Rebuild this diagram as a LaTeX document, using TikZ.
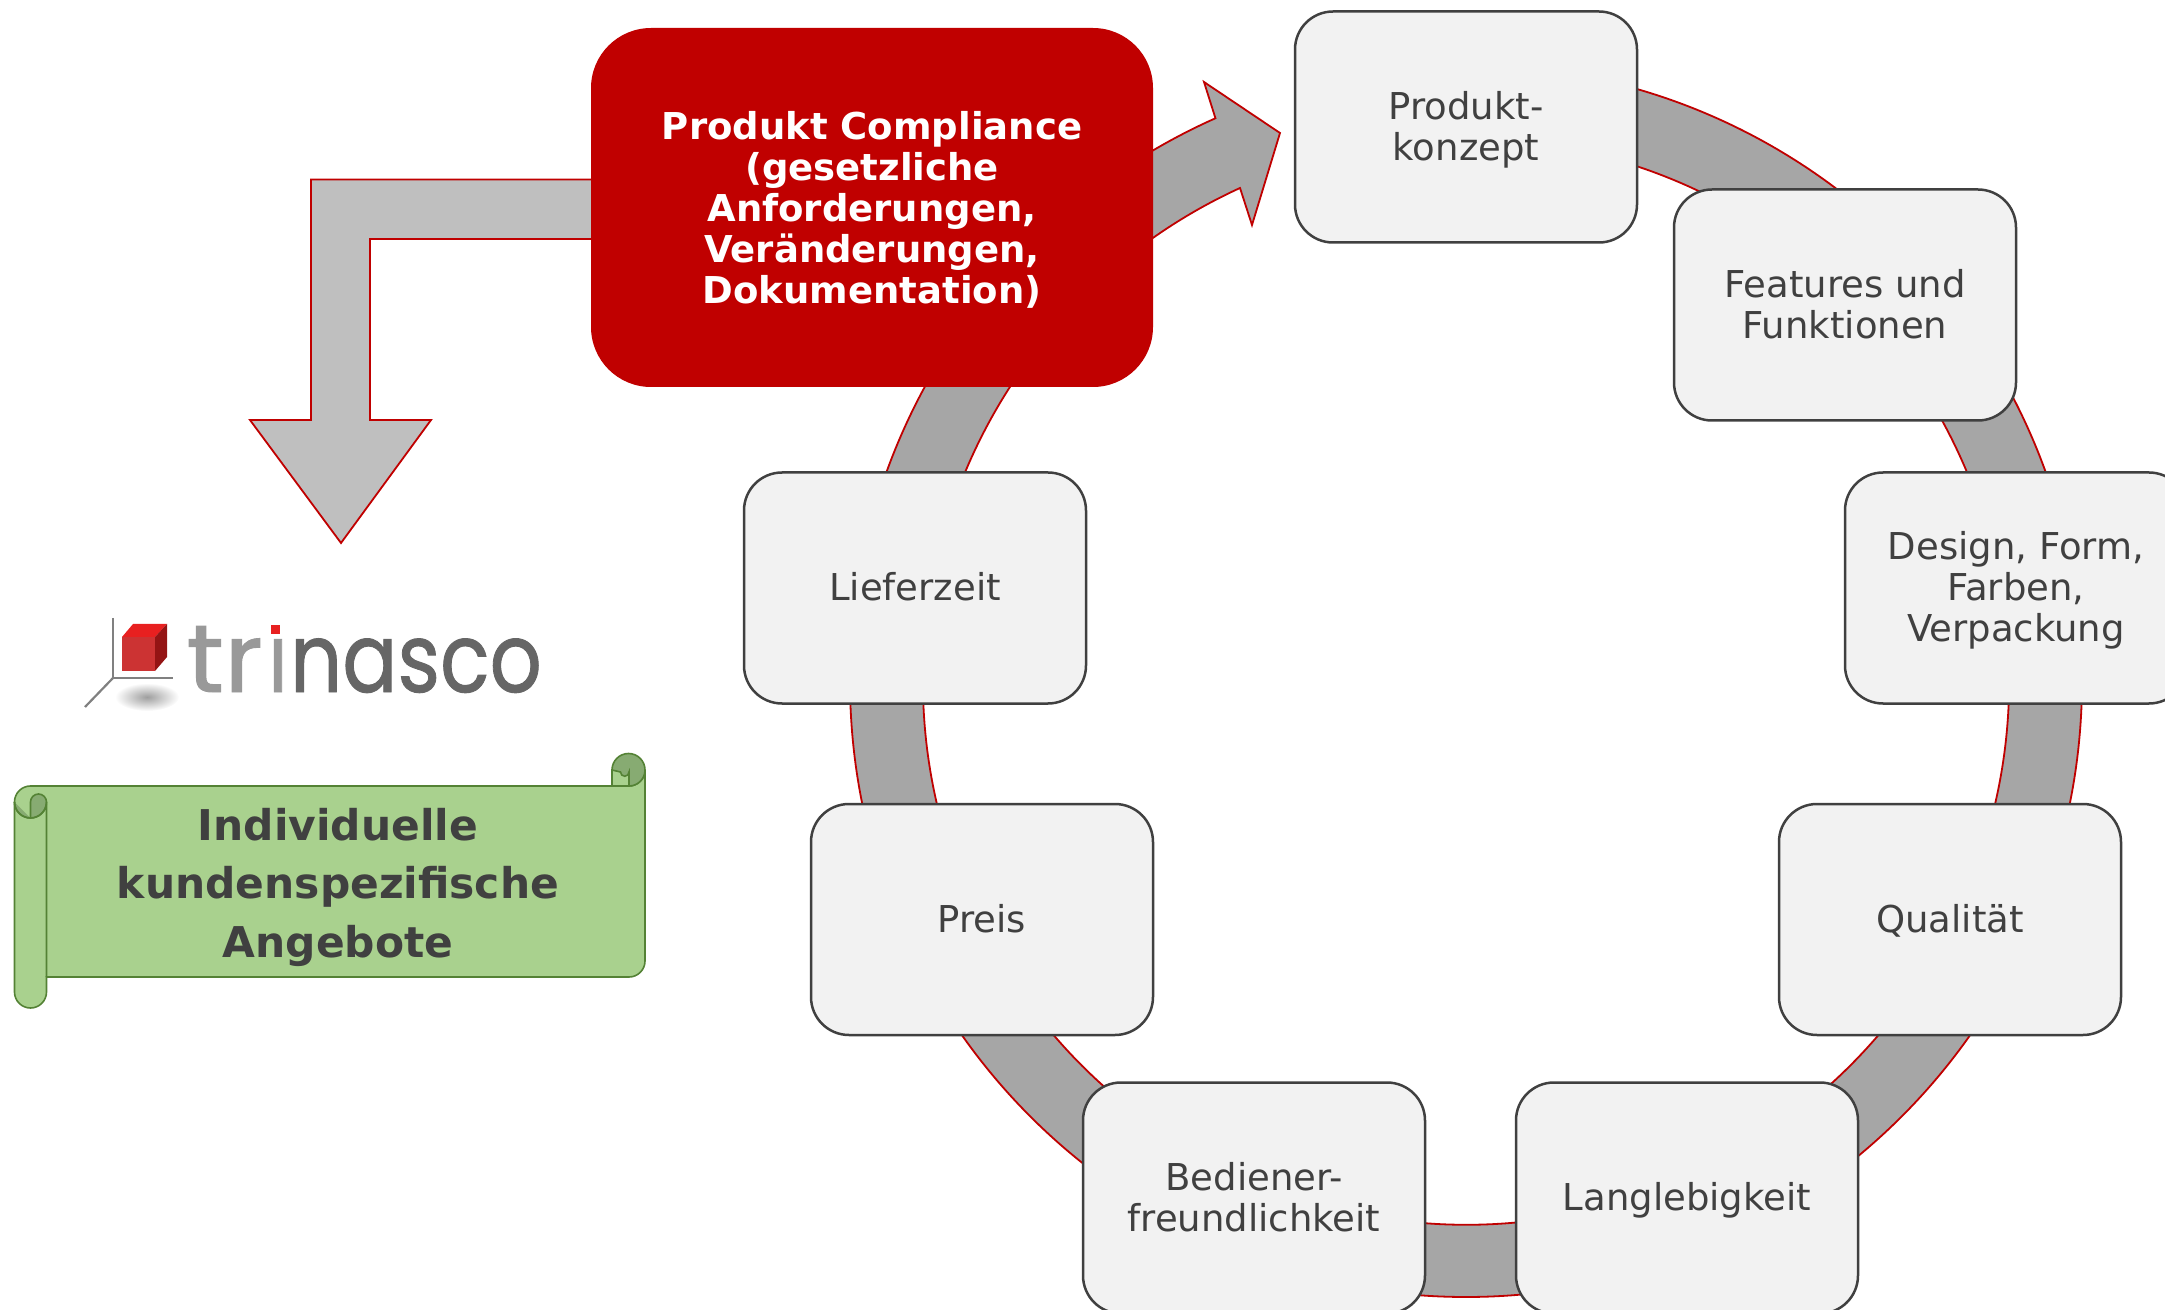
\documentclass[tikz,border=0pt]{standalone}
\usepackage{fontspec}
\usepackage{graphicx}
\setmainfont{DejaVu Sans}
\newfontfamily\logofont[FakeBold=1.0]{Poppins}
\definecolor{ringgray}{HTML}{A6A6A6}
\definecolor{larrow}{HTML}{BFBFBF}
\definecolor{ringred}{HTML}{C00000}
\definecolor{boxfill}{HTML}{F2F2F2}
\definecolor{darktext}{HTML}{404040}
\definecolor{scrollfill}{HTML}{A9D18E}
\definecolor{scrolldark}{HTML}{87AB72}
\definecolor{scrollline}{HTML}{548235}
\definecolor{cubefront}{HTML}{CC3333}
\definecolor{cubetop}{HTML}{E82020}
\definecolor{cubeside}{HTML}{941414}
\newcommand\strA{\rule{0pt}{17.8pt}}
\newcommand\strC{\rule{0pt}{19.2pt}}
\newcommand\strB{\rule[-5pt]{0pt}{5pt}}
\tikzset{
  stagebox/.style={draw=darktext,line width=1.25pt,fill=boxfill,rounded corners=19pt,minimum width=171pt,minimum height=115.5pt,inner sep=0pt,outer sep=0pt,align=center,text=darktext,font=\fontsize{18.5}{20.5}\selectfont},
  redbox/.style={fill=ringred,rounded corners=30pt,minimum width=281pt,minimum height=179.5pt,inner sep=0pt,outer sep=0pt,align=center,text=white,font=\fontsize{18.5}{20.5}\selectfont\bfseries},
  flow/.style={draw=ringred,line width=.9pt,line join=miter},
  scrollshape/.style={draw=scrollline,line width=.8pt,fill=scrollfill},
  scrollcurl/.style={draw=scrollline,line width=.8pt,fill=scrolldark},
}
\begin{document}
\begin{tikzpicture}[x=.5pt,y=-.5pt]
\useasboundingbox (0,0) rectangle (2165,1310);
% ring with arrow head
\draw[flow,fill=ringgray] (1466,65) arc[start angle=-90,end angle=246,radius=616]
  -- (1204,82) -- (1280,133) -- (1252,225) -- (1240,188)
  arc[start angle=245.4,end angle=-90,radius=543] -- cycle;
% L arrow
\draw[flow,fill=larrow] (600,179.5) -- (311,179.5) -- (311,420) -- (250,420) -- (341,543) -- (431,420) -- (370,420) -- (370,239) -- (600,239) -- cycle;
% nodes
\node[redbox] (compliance) at (872,207.5) {\strC Produkt Compliance\\(gesetzliche\\Anforderungen,\\Veränderungen,\\Dokumentation)\strB};
\node[stagebox] (konzept) at (1466,127) {\strA Produkt-\\konzept\strB};
\node[stagebox] (features) at (1845,305) {\strA Features und\\Funktionen\strB};
\node[stagebox] (design) at (2016,588) {\strA Design, Form,\\Farben,\\Verpackung\strB};
\node[stagebox] (qualitaet) at (1950,919.5) {\strA Qualität\strB};
\node[stagebox] (langlebig) at (1687,1198) {\strA Langlebigkeit\strB};
\node[stagebox] (bediener) at (1254,1198) {\strA Bediener-\\freundlichkeit\strB};
\node[stagebox] (preis) at (982,919.5) {\strA Preis\strB};
\node[stagebox] (liefer) at (915,588) {\strA Lieferzeit\strB};
% logo
\shade[inner color=black!38,outer color=white] (147,697) ellipse [x radius=32,y radius=14];
\draw[gray,line width=1.1pt] (113,618) -- (113,678) -- (173,678);
\draw[gray,line width=1.1pt] (113,678) -- (85,707);
\fill[cubefront] (122,637) rectangle (155,671);
\fill[cubetop] (122,637) -- (133,624) -- (167,624) -- (155,637) -- cycle;
\fill[cubeside] (155,637) -- (167,624) -- (167,657) -- (155,671) -- cycle;
\node[anchor=base west,inner sep=0pt,font=\logofont\fontsize{48}{48}\selectfont] (logotext) at (186,692) {\textcolor{black!40}{\scalebox{1.08}[1]{tr}\kern2.5pt\scalebox{.86}[1]{i}}\kern1pt\textcolor{black!60}{\scalebox{.85}[1]{nasco}}};
\fill[white] (262,612) rectangle (288,637);
\fill[cubetop] (271,625) rectangle (280,634);
% scroll
\draw[scrollshape] (14.5,802) arc[start angle=180,end angle=270,radius=16] -- (629,786)
  arc[start angle=90,end angle=0,radius=16] -- (645,961)
  arc[start angle=0,end angle=90,radius=16] -- (46.5,977) -- (46.5,992)
  arc[start angle=0,end angle=180,radius=16] -- cycle;
\draw[scrollshape] (612,786) -- (612,770) -- (629,770) -- (629,786) -- cycle;
\draw[scrollcurl] (612,770) arc[start angle=180,end angle=360,radius=16.5]
  arc[start angle=0,end angle=90,radius=16] -- (629,772)
  arc[start angle=0,end angle=180,radius=4.25] arc[start angle=0,end angle=-180,radius=0] -- cycle;
\draw[scrollcurl] (30.5,818) arc[start angle=90,end angle=180,radius=16]
  (30.5,818) arc[start angle=90,end angle=0,radius=16] arc[start angle=0,end angle=-180,radius=8] -- cycle;
\draw[scrollline,line width=.8pt] (14.5,802) arc[start angle=180,end angle=90,radius=16] arc[start angle=90,end angle=0,radius=16] -- (46.5,977);
\node[inner sep=0pt,align=center,text=darktext,font=\fontsize{21.2}{29.25}\selectfont\bfseries] (scrolltext) at (338,887) {Individuelle\\kundenspezifische\\Angebote};
\end{tikzpicture}
\end{document}
